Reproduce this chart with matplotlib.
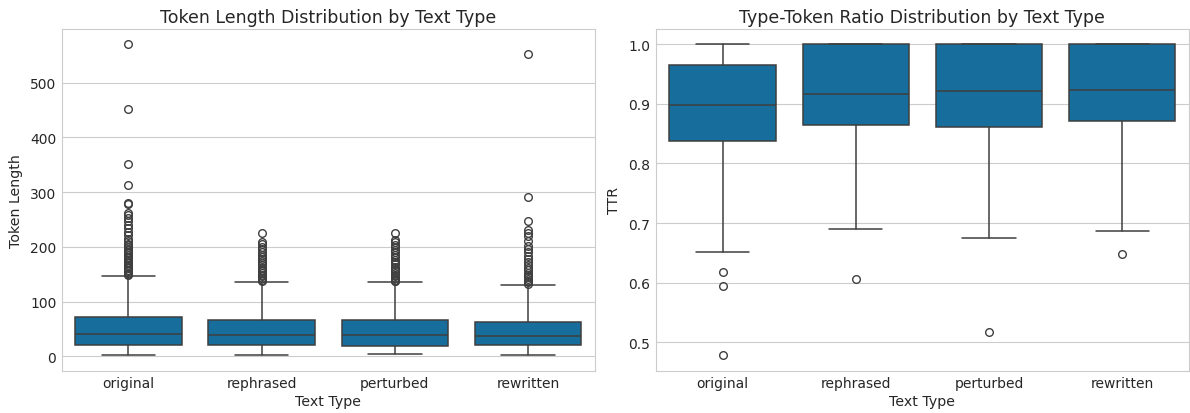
import matplotlib
matplotlib.use("Agg")
import matplotlib.pyplot as plt
import seaborn as sns

categories = ["original", "rephrased", "perturbed", "rewritten"]

# token length box stats
tok_whislo = [2, 2, 3.6, 2]
tok_q1 = [20, 20, 19, 20]
tok_med = [41, 39.5, 38.3, 37]
tok_q3 = [71, 67, 65.6, 63]
tok_whishi = [146, 135.5, 135.5, 129.5]
tok_fliers = [
    [570, 451, 352, 313, 281, 279, 262, 258, 252, 247, 240, 235, 228, 222, 215, 210,
     206, 203, 200, 197, 194, 191, 188, 185, 182, 179, 176, 173, 170, 167, 164, 161,
     158, 155, 152, 150, 148],
    [226, 208, 205, 200, 196, 191, 186, 182, 178, 174, 170, 166, 162, 158, 155, 152,
     149, 146, 143, 140, 138],
    [226, 212, 208, 204, 200, 195, 190, 186, 181, 176, 172, 168, 164, 160, 156, 152,
     149, 146, 143, 140, 138, 137],
    [553, 291, 248, 231, 225, 220, 211, 202, 196, 190, 184, 178, 172, 167, 162, 157,
     153, 149, 145, 141, 138, 135, 132],
]

# type-token ratio box stats
ttr_whislo = [0.651, 0.690, 0.675, 0.686]
ttr_q1 = [0.837, 0.864, 0.862, 0.871]
ttr_med = [0.899, 0.916, 0.922, 0.923]
ttr_q3 = [0.965, 1.0, 1.0, 1.0]
ttr_whishi = [1.0, 1.0, 1.0, 1.0]
ttr_fliers = [[0.617, 0.595, 0.478], [0.606], [0.517], [0.648]]

sns.set_style("whitegrid")
plt.rcParams["font.family"] = ["DejaVu Sans"]

face = sns.desaturate("#0173b2", 0.75)
line = "#3f3f3f"


def make_stats(lo, q1, med, q3, hi, fl):
    return [dict(label=c, whislo=lo[i], q1=q1[i], med=med[i], q3=q3[i], whishi=hi[i],
                 fliers=fl[i]) for i, c in enumerate(categories)]


def draw(ax, stats, title, ylabel):
    ax.bxp(stats, positions=range(len(categories)), widths=0.8, patch_artist=True,
           capwidths=0.4,
           boxprops=dict(facecolor=face, edgecolor=line, linewidth=1.1),
           medianprops=dict(color=line, linewidth=1.1),
           whiskerprops=dict(color=line, linewidth=1.1),
           capprops=dict(color=line, linewidth=1.1),
           flierprops=dict(marker="o", markerfacecolor="none", markeredgecolor=line,
                           markersize=5.5, markeredgewidth=1.0))
    ax.set_xlim(-0.5, len(categories) - 0.5)
    ax.xaxis.grid(False)
    ax.set_title(title, fontsize=12.5, pad=5)
    ax.set_xlabel("Text Type", fontsize=10.2, labelpad=3)
    ax.set_ylabel(ylabel, fontsize=10.2, labelpad=5)
    ax.tick_params(labelsize=10, pad=4, length=0)


fig, (ax1, ax2) = plt.subplots(1, 2, figsize=(11.9, 4.14), dpi=100)
draw(ax1, make_stats(tok_whislo, tok_q1, tok_med, tok_q3, tok_whishi, tok_fliers),
     "Token Length Distribution by Text Type", "Token Length")
draw(ax2, make_stats(ttr_whislo, ttr_q1, ttr_med, ttr_q3, ttr_whishi, ttr_fliers),
     "Type-Token Ratio Distribution by Text Type", "TTR")
ax1.set_yticks([0, 100, 200, 300, 400, 500])
ax2.set_yticks([0.5, 0.6, 0.7, 0.8, 0.9, 1.0])
ax2.set_yticklabels(["0.5", "0.6", "0.7", "0.8", "0.9", "1.0"])

plt.subplots_adjust(left=0.052, right=0.999, top=0.928, bottom=0.102, wspace=0.115)
fig.savefig("out.png")
